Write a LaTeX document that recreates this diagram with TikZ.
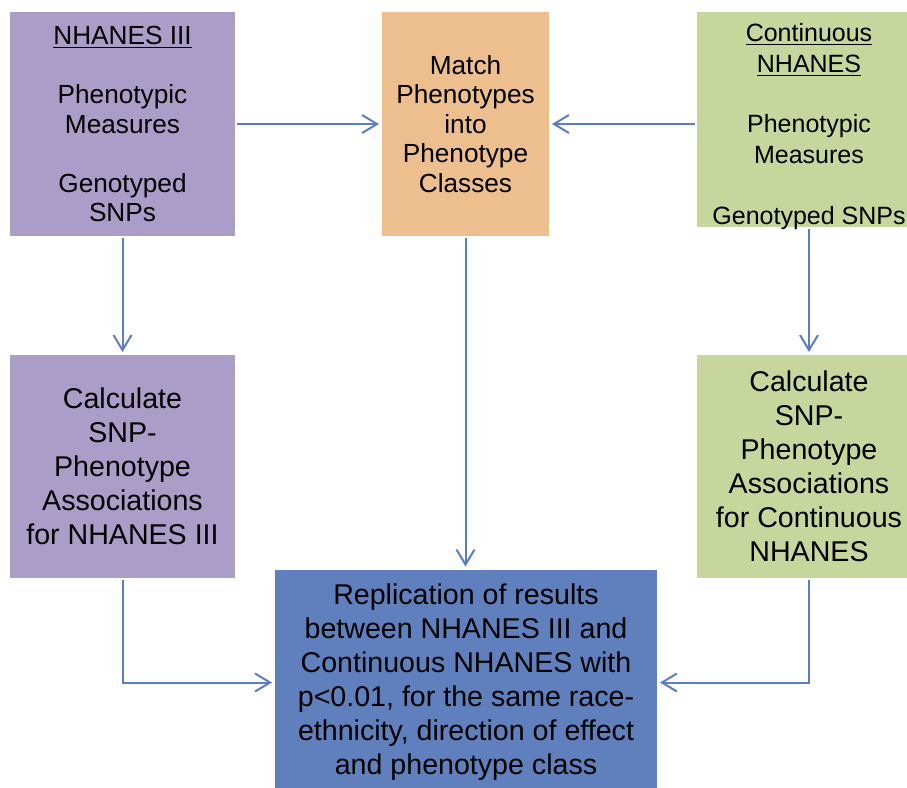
\documentclass[tikz,border=0pt]{standalone}
\usepackage{fontspec}
\setmainfont{Liberation Sans}
\usetikzlibrary{arrows.meta}
\definecolor{lilac}{RGB}{170,157,199}
\definecolor{peach}{RGB}{237,190,142}
\definecolor{sage}{RGB}{198,214,157}
\definecolor{steel}{RGB}{95,128,189}
\definecolor{flowline}{RGB}{91,126,195}
\begin{document}
\begin{tikzpicture}[x=0.5pt,y=-0.5pt,
	box/.style={inner sep=0pt,outer sep=0pt,align=center,font=\fontsize{13.1}{14.8}\selectfont},
	bigbox/.style={box,font=\fontsize{14.3}{17}\selectfont},
	flow/.style={draw=flowline,line width=1pt,-{Straight Barb[length=7.5pt,width=9pt,line width=1pt]},shorten >=1.5pt,shorten <=1pt}]
	\path[use as bounding box,clip] (0,0) rectangle (907,788);
	% top row
	\node[box,fill=lilac,minimum width=112.5pt,minimum height=112pt] (nh3) at (122.5,124) {\underline{NHANES III}\\ \\Phenotypic\\Measures\\ \\Genotyped\\SNPs};
	\node[box,fill=peach,minimum width=83.5pt,minimum height=112pt] (match) at (465.5,124) {Match\\Phenotypes\\into\\Phenotype\\Classes};
	\node[box,fill=sage,minimum width=112pt,minimum height=107.5pt,
		label={[box,font=\fontsize{12.5}{15.2}\selectfont,yshift=-3.5pt]center:{\underline{Continuous}\\\underline{NHANES}\\ \\Phenotypic\\Measures\\ \\Genotyped SNPs}}] (cont) at (809,119.5) {};
	% middle row
	\node[bigbox,fill=lilac,minimum width=112.5pt,minimum height=111.5pt] (calc3) at (122.5,466.5) {Calculate\\SNP-\\Phenotype\\Associations\\for NHANES III};
	\node[bigbox,fill=sage,minimum width=112pt,minimum height=111.5pt] (calcC) at (809,466.5) {Calculate\\SNP-\\Phenotype\\Associations\\for Continuous\\NHANES};
	% bottom
	\node[bigbox,fill=steel,minimum width=191pt,minimum height=113pt] (repl) at (466,682.5) {Replication of results\\between NHANES III and\\Continuous NHANES with\\p<0.01, for the same race-\\ethnicity, direction of effect\\and phenotype class};
	% connectors
	\draw[flow] (nh3) -- (match);
	\draw[flow] (cont.west |- match) -- (match);
	\draw[flow] (nh3) -- (calc3);
	\draw[flow] (cont) -- (calcC);
	\draw[flow] (match) -- (match |- repl.north);
	\draw[flow] (calc3) |- (repl);
	\draw[flow] (calcC) |- (repl);
\end{tikzpicture}
\end{document}
